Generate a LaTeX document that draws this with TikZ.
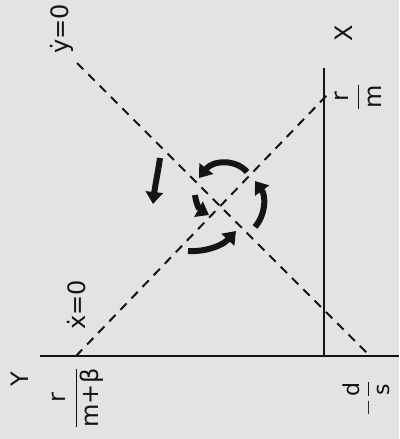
\documentclass[tikz,border=0pt]{standalone}
\usepackage{fontspec}
\usepackage{amsmath}
\usepackage{graphicx}
\setmainfont{DejaVu Sans}
\usetikzlibrary{arrows.meta}
\definecolor{paper}{gray}{0.89}
\definecolor{ink}{gray}{0.08}
\begin{document}
\begin{tikzpicture}[x=1pt,y=-1pt,
  axisline/.style={line width=2.2pt,ink},
  isoline/.style={line width=2pt,dash pattern=on 9pt off 7pt,ink},
  flow/.style={line width=6pt,ink,-{Triangle[length=12pt,width=17pt]}},
  lab/.style={rotate=90,inner sep=0pt,text=ink}]
\fill[paper] (0,0) rectangle (399,439);
\useasboundingbox (0,0) rectangle (399,439);
% axes
\coordinate (Yleft) at (40,356);
\coordinate (Yright) at (399,356);
\coordinate (Xbot) at (324,356);
\coordinate (Xtop) at (324,68);
\draw[axisline] (Yleft) -- (Yright);
\draw[axisline] (Xbot) -- (Xtop);
% isoclines
\coordinate (xa) at (76,356);
\coordinate (xb) at (329,93);
\coordinate (ya) at (77,63);
\coordinate (yb) at (370,356);
\draw[isoline] (xa) -- (xb);
\draw[isoline] (ya) -- (yb);
% flow arrows
\coordinate (l1) at (160,158); \coordinate (l2) at (153,204);
\draw[flow] (l1) .. controls (158,172) and (155,186) .. (l2);
\coordinate (t1) at (247,172); \coordinate (t2) at (199,178);
\draw[flow] (t1) .. controls (236,159) and (213,160) .. (t2);
\coordinate (r1) at (255,227); \coordinate (r2) at (255,181);
\draw[flow] (r1) .. controls (266,214) and (266,196) .. (r2);
\coordinate (b1) at (188,251); \coordinate (b2) at (236,231);
\draw[flow] (b1) .. controls (205,252) and (222,246) .. (b2);
\coordinate (i1) at (195,195); \coordinate (i2) at (209,215);
\draw[flow] (i1) .. controls (196,204) and (200,210) .. (i2);
% labels
\node[lab] (ydot) at (62,29) {\scalebox{2.4}{ẏ=0}};
\node[lab] (xdot) at (77,305) {\scalebox{2.4}{ẋ=0}};
\node[lab] (X) at (344,33) {\scalebox{2.4}{X}};
\node[lab] (Y) at (20,379) {\scalebox{2.4}{Y}};
\node[lab] (rm) at (358,97) {\scalebox{2.4}{$\dfrac{\text{r}}{\text{m}}$}};
\node[lab] (rmb) at (78,398) {\scalebox{2.4}{$\dfrac{\text{r}}{\text{m+β}}$}};
\node[lab] (ds) at (366,398) {\scalebox{2.2}{$-\dfrac{\text{d}}{\text{s}}$}};
\end{tikzpicture}
\end{document}
